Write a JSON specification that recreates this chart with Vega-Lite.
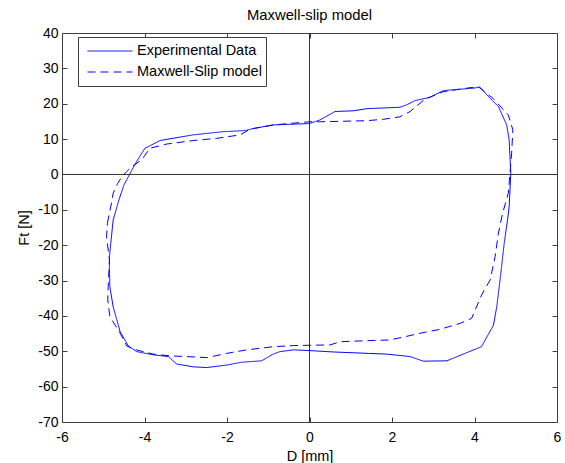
{
  "$schema": "https://vega.github.io/schema/vega-lite/v6.json",
  "width": 495,
  "height": 389,
  "autosize": {"type": "none"},
  "padding": {"left": 62, "top": 33, "right": 8, "bottom": 41},
  "background": "white",
  "title": {"text": "Maxwell-slip model", "fontSize": 14.8, "fontWeight": "normal", "font": "Liberation Sans", "color": "#000000", "offset": 3},
  "data": {"values": [
    {"series": "Experimental Data", "i": 0, "D": -4.85, "Ft": -26.1},
    {"series": "Experimental Data", "i": 1, "D": -4.85, "Ft": -23.2},
    {"series": "Experimental Data", "i": 2, "D": -4.76, "Ft": -12.9},
    {"series": "Experimental Data", "i": 3, "D": -4.62, "Ft": -7.2},
    {"series": "Experimental Data", "i": 4, "D": -4.5, "Ft": -3.0},
    {"series": "Experimental Data", "i": 5, "D": -4.35, "Ft": 0.3},
    {"series": "Experimental Data", "i": 6, "D": -4.2, "Ft": 3.5},
    {"series": "Experimental Data", "i": 7, "D": -3.99, "Ft": 7.4},
    {"series": "Experimental Data", "i": 8, "D": -3.62, "Ft": 9.6},
    {"series": "Experimental Data", "i": 9, "D": -2.82, "Ft": 11.2},
    {"series": "Experimental Data", "i": 10, "D": -2.09, "Ft": 12.1},
    {"series": "Experimental Data", "i": 11, "D": -1.56, "Ft": 12.4},
    {"series": "Experimental Data", "i": 12, "D": -1.36, "Ft": 13.0},
    {"series": "Experimental Data", "i": 13, "D": -0.88, "Ft": 14.0},
    {"series": "Experimental Data", "i": 14, "D": 0.0, "Ft": 14.4},
    {"series": "Experimental Data", "i": 15, "D": 0.25, "Ft": 15.4},
    {"series": "Experimental Data", "i": 16, "D": 0.62, "Ft": 17.8},
    {"series": "Experimental Data", "i": 17, "D": 1.06, "Ft": 18.0},
    {"series": "Experimental Data", "i": 18, "D": 1.39, "Ft": 18.6},
    {"series": "Experimental Data", "i": 19, "D": 2.19, "Ft": 19.0},
    {"series": "Experimental Data", "i": 20, "D": 2.36, "Ft": 19.7},
    {"series": "Experimental Data", "i": 21, "D": 2.56, "Ft": 20.9},
    {"series": "Experimental Data", "i": 22, "D": 2.92, "Ft": 21.8},
    {"series": "Experimental Data", "i": 23, "D": 3.24, "Ft": 23.7},
    {"series": "Experimental Data", "i": 24, "D": 3.65, "Ft": 24.1},
    {"series": "Experimental Data", "i": 25, "D": 3.97, "Ft": 24.4},
    {"series": "Experimental Data", "i": 26, "D": 4.13, "Ft": 24.7},
    {"series": "Experimental Data", "i": 27, "D": 4.38, "Ft": 21.5},
    {"series": "Experimental Data", "i": 28, "D": 4.58, "Ft": 19.2},
    {"series": "Experimental Data", "i": 29, "D": 4.78, "Ft": 14.0},
    {"series": "Experimental Data", "i": 30, "D": 4.84, "Ft": 9.8},
    {"series": "Experimental Data", "i": 31, "D": 4.88, "Ft": 0.3},
    {"series": "Experimental Data", "i": 32, "D": 4.84, "Ft": -9.1},
    {"series": "Experimental Data", "i": 33, "D": 4.8, "Ft": -12.9},
    {"series": "Experimental Data", "i": 34, "D": 4.72, "Ft": -19.5},
    {"series": "Experimental Data", "i": 35, "D": 4.62, "Ft": -29.8},
    {"series": "Experimental Data", "i": 36, "D": 4.54, "Ft": -37.4},
    {"series": "Experimental Data", "i": 37, "D": 4.46, "Ft": -42.6},
    {"series": "Experimental Data", "i": 38, "D": 4.17, "Ft": -48.7},
    {"series": "Experimental Data", "i": 39, "D": 3.81, "Ft": -50.4},
    {"series": "Experimental Data", "i": 40, "D": 3.33, "Ft": -52.7},
    {"series": "Experimental Data", "i": 41, "D": 2.76, "Ft": -52.8},
    {"series": "Experimental Data", "i": 42, "D": 2.44, "Ft": -51.5},
    {"series": "Experimental Data", "i": 43, "D": 1.87, "Ft": -50.8},
    {"series": "Experimental Data", "i": 44, "D": 1.43, "Ft": -50.6},
    {"series": "Experimental Data", "i": 45, "D": 0.58, "Ft": -50.2},
    {"series": "Experimental Data", "i": 46, "D": 0.0, "Ft": -49.8},
    {"series": "Experimental Data", "i": 47, "D": -0.39, "Ft": -49.6},
    {"series": "Experimental Data", "i": 48, "D": -0.72, "Ft": -50.1},
    {"series": "Experimental Data", "i": 49, "D": -0.88, "Ft": -50.8},
    {"series": "Experimental Data", "i": 50, "D": -1.16, "Ft": -52.7},
    {"series": "Experimental Data", "i": 51, "D": -1.64, "Ft": -53.1},
    {"series": "Experimental Data", "i": 52, "D": -2.01, "Ft": -53.9},
    {"series": "Experimental Data", "i": 53, "D": -2.49, "Ft": -54.6},
    {"series": "Experimental Data", "i": 54, "D": -2.82, "Ft": -54.4},
    {"series": "Experimental Data", "i": 55, "D": -3.22, "Ft": -53.6},
    {"series": "Experimental Data", "i": 56, "D": -3.42, "Ft": -51.5},
    {"series": "Experimental Data", "i": 57, "D": -3.79, "Ft": -51.0},
    {"series": "Experimental Data", "i": 58, "D": -4.19, "Ft": -50.1},
    {"series": "Experimental Data", "i": 59, "D": -4.39, "Ft": -48.5},
    {"series": "Experimental Data", "i": 60, "D": -4.59, "Ft": -44.5},
    {"series": "Experimental Data", "i": 61, "D": -4.76, "Ft": -37.4},
    {"series": "Experimental Data", "i": 62, "D": -4.84, "Ft": -31.7},
    {"series": "Experimental Data", "i": 63, "D": -4.85, "Ft": -26.1},
    {"series": "Maxwell-Slip model", "i": 0, "D": -4.9, "Ft": -13.8},
    {"series": "Maxwell-Slip model", "i": 1, "D": -4.8, "Ft": -8.1},
    {"series": "Maxwell-Slip model", "i": 2, "D": -4.76, "Ft": -5.3},
    {"series": "Maxwell-Slip model", "i": 3, "D": -4.65, "Ft": -2.5},
    {"series": "Maxwell-Slip model", "i": 4, "D": -4.51, "Ft": -0.1},
    {"series": "Maxwell-Slip model", "i": 5, "D": -4.31, "Ft": 2.2},
    {"series": "Maxwell-Slip model", "i": 6, "D": -4.07, "Ft": 4.1},
    {"series": "Maxwell-Slip model", "i": 7, "D": -3.87, "Ft": 7.4},
    {"series": "Maxwell-Slip model", "i": 8, "D": -3.46, "Ft": 8.6},
    {"series": "Maxwell-Slip model", "i": 9, "D": -2.82, "Ft": 9.6},
    {"series": "Maxwell-Slip model", "i": 10, "D": -2.25, "Ft": 10.2},
    {"series": "Maxwell-Slip model", "i": 11, "D": -1.68, "Ft": 11.2},
    {"series": "Maxwell-Slip model", "i": 12, "D": -1.44, "Ft": 12.8},
    {"series": "Maxwell-Slip model", "i": 13, "D": -0.88, "Ft": 14.0},
    {"series": "Maxwell-Slip model", "i": 14, "D": 0.0, "Ft": 14.9},
    {"series": "Maxwell-Slip model", "i": 15, "D": 0.25, "Ft": 14.9},
    {"series": "Maxwell-Slip model", "i": 16, "D": 1.39, "Ft": 15.2},
    {"series": "Maxwell-Slip model", "i": 17, "D": 1.79, "Ft": 15.6},
    {"series": "Maxwell-Slip model", "i": 18, "D": 2.19, "Ft": 16.3},
    {"series": "Maxwell-Slip model", "i": 19, "D": 2.44, "Ft": 17.8},
    {"series": "Maxwell-Slip model", "i": 20, "D": 2.56, "Ft": 19.0},
    {"series": "Maxwell-Slip model", "i": 21, "D": 2.8, "Ft": 21.3},
    {"series": "Maxwell-Slip model", "i": 22, "D": 3.24, "Ft": 23.4},
    {"series": "Maxwell-Slip model", "i": 23, "D": 3.81, "Ft": 24.4},
    {"series": "Maxwell-Slip model", "i": 24, "D": 4.09, "Ft": 24.8},
    {"series": "Maxwell-Slip model", "i": 25, "D": 4.45, "Ft": 21.5},
    {"series": "Maxwell-Slip model", "i": 26, "D": 4.82, "Ft": 16.8},
    {"series": "Maxwell-Slip model", "i": 27, "D": 4.93, "Ft": 12.6},
    {"series": "Maxwell-Slip model", "i": 28, "D": 4.9, "Ft": 6.0},
    {"series": "Maxwell-Slip model", "i": 29, "D": 4.86, "Ft": 0.3},
    {"series": "Maxwell-Slip model", "i": 30, "D": 4.82, "Ft": -5.3},
    {"series": "Maxwell-Slip model", "i": 31, "D": 4.68, "Ft": -11.0},
    {"series": "Maxwell-Slip model", "i": 32, "D": 4.58, "Ft": -16.6},
    {"series": "Maxwell-Slip model", "i": 33, "D": 4.5, "Ft": -23.2},
    {"series": "Maxwell-Slip model", "i": 34, "D": 4.38, "Ft": -29.8},
    {"series": "Maxwell-Slip model", "i": 35, "D": 4.17, "Ft": -34.1},
    {"series": "Maxwell-Slip model", "i": 36, "D": 3.93, "Ft": -40.7},
    {"series": "Maxwell-Slip model", "i": 37, "D": 3.65, "Ft": -42.1},
    {"series": "Maxwell-Slip model", "i": 38, "D": 3.16, "Ft": -43.8},
    {"series": "Maxwell-Slip model", "i": 39, "D": 2.68, "Ft": -44.9},
    {"series": "Maxwell-Slip model", "i": 40, "D": 2.27, "Ft": -46.0},
    {"series": "Maxwell-Slip model", "i": 41, "D": 1.95, "Ft": -46.8},
    {"series": "Maxwell-Slip model", "i": 42, "D": 1.39, "Ft": -47.0},
    {"series": "Maxwell-Slip model", "i": 43, "D": 0.74, "Ft": -47.3},
    {"series": "Maxwell-Slip model", "i": 44, "D": 0.5, "Ft": -48.2},
    {"series": "Maxwell-Slip model", "i": 45, "D": 0.0, "Ft": -48.3},
    {"series": "Maxwell-Slip model", "i": 46, "D": -0.39, "Ft": -48.4},
    {"series": "Maxwell-Slip model", "i": 47, "D": -0.88, "Ft": -48.7},
    {"series": "Maxwell-Slip model", "i": 48, "D": -1.52, "Ft": -49.6},
    {"series": "Maxwell-Slip model", "i": 49, "D": -2.01, "Ft": -50.6},
    {"series": "Maxwell-Slip model", "i": 50, "D": -2.49, "Ft": -51.8},
    {"series": "Maxwell-Slip model", "i": 51, "D": -2.98, "Ft": -51.5},
    {"series": "Maxwell-Slip model", "i": 52, "D": -3.38, "Ft": -51.3},
    {"series": "Maxwell-Slip model", "i": 53, "D": -3.79, "Ft": -50.8},
    {"series": "Maxwell-Slip model", "i": 54, "D": -4.27, "Ft": -49.4},
    {"series": "Maxwell-Slip model", "i": 55, "D": -4.43, "Ft": -48.5},
    {"series": "Maxwell-Slip model", "i": 56, "D": -4.59, "Ft": -44.9},
    {"series": "Maxwell-Slip model", "i": 57, "D": -4.84, "Ft": -40.2},
    {"series": "Maxwell-Slip model", "i": 58, "D": -4.89, "Ft": -35.5},
    {"series": "Maxwell-Slip model", "i": 59, "D": -4.88, "Ft": -31.7},
    {"series": "Maxwell-Slip model", "i": 60, "D": -4.85, "Ft": -24.2},
    {"series": "Maxwell-Slip model", "i": 61, "D": -4.92, "Ft": -17.6},
    {"series": "Maxwell-Slip model", "i": 62, "D": -4.9, "Ft": -13.8}
  ]},
  "layer": [
    {
      "data": {"values": [{"v": 0}]},
      "mark": {"type": "rule", "color": "#333333", "strokeWidth": 1},
      "encoding": {
        "x": {"field": "v", "type": "quantitative", "scale": {"domain": [-6, 6], "nice": false},
          "axis": {"orient": "top", "labels": false, "title": null, "values": [-6, -4, -2, 0, 2, 4, 6]}}
      }
    },
    {
      "data": {"values": [{"v": 0}]},
      "mark": {"type": "rule", "color": "#333333", "strokeWidth": 1},
      "encoding": {
        "y": {"field": "v", "type": "quantitative", "scale": {"domain": [-70, 40], "nice": false},
          "axis": {"orient": "right", "labels": false, "title": null, "values": [-70, -60, -50, -40, -30, -20, -10, 0, 10, 20, 30, 40]}}
      }
    },
    {
      "mark": {"type": "line", "strokeWidth": 1, "clip": true},
      "encoding": {
        "x": {"field": "D", "type": "quantitative", "scale": {"domain": [-6, 6], "nice": false},
          "axis": {"orient": "bottom", "title": "D [mm]", "values": [-6, -4, -2, 0, 2, 4, 6], "labelExpr": "datum.value + ''", "labelPadding": 13, "titlePadding": 5}},
        "y": {"field": "Ft", "type": "quantitative", "scale": {"domain": [-70, 40], "nice": false},
          "axis": {"orient": "left", "title": "Ft [N]", "values": [-70, -60, -50, -40, -30, -20, -10, 0, 10, 20, 30, 40], "labelExpr": "datum.value + ''", "titlePadding": 6}},
        "color": {"field": "series", "type": "nominal",
          "scale": {"domain": ["Experimental Data", "Maxwell-Slip model"], "range": ["#0000ff", "#0000ff"]},
          "legend": {"title": null, "orient": "none", "legendX": 16, "legendY": 4, "labelExpr": "datum.label + '\u00a0\u00a0\u00a0'"}},
        "strokeDash": {"field": "series", "type": "nominal",
          "scale": {"domain": ["Experimental Data", "Maxwell-Slip model"], "range": [[1, 0], [8, 5]]},
          "legend": {"title": null, "orient": "none", "legendX": 16, "legendY": 4, "labelExpr": "datum.label + '\u00a0\u00a0\u00a0'"}},
        "order": {"field": "i", "type": "quantitative"}
      }
    }
  ],
  "resolve": {"axis": {"x": "independent", "y": "independent"}},
  "config": {
    "font": "Liberation Sans",
    "view": {"stroke": "#404040", "strokeWidth": 1},
    "axis": {
      "domain": false,
      "grid": false,
      "ticks": true,
      "tickSize": -5,
      "tickColor": "#404040",
      "tickWidth": 1,
      "labelFont": "Liberation Sans",
      "labelFontSize": 14,
      "labelColor": "#000000",
      "labelFlush": false,
      "labelOverlap": false,
      "labelBound": false,
      "labelPadding": 9,
      "titleFont": "Liberation Sans",
      "titleFontSize": 14.5,
      "titleFontWeight": "normal",
      "titleColor": "#000000"
    },
    "legend": {
      "symbolType": "stroke",
      "symbolSize": 2025,
      "symbolStrokeWidth": 1,
      "labelFont": "Liberation Sans",
      "labelFontSize": 14.5,
      "labelColor": "#000000",
      "labelOffset": 4,
      "symbolOffset": 5,
      "clipHeight": 20,
      "rowPadding": 1,
      "padding": 4,
      "strokeColor": "#404040",
      "fillColor": "#ffffff",
      "cornerRadius": 0,
      "labelLimit": 300
    }
  }
}
